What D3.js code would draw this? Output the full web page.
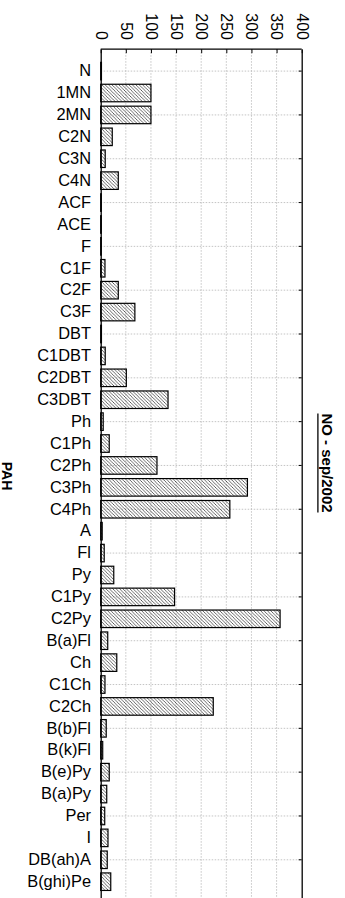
<!DOCTYPE html>
<html>
<head>
<meta charset="utf-8">
<script src="https://cdn.jsdelivr.net/npm/d3@7"></script>
<style>
  html, body { margin: 0; padding: 0; background: #fff; }
  svg { display: block; font-family: "Liberation Sans", Arial, sans-serif; }
</style>
</head>
<body>
<svg id="chart" width="345" height="898"></svg>
<script>
// PAH concentrations, station NO, September 2002
const categories = ["N","1MN","2MN","C2N","C3N","C4N","ACF","ACE","F","C1F","C2F","C3F",
  "DBT","C1DBT","C2DBT","C3DBT","Ph","C1Ph","C2Ph","C3Ph","C4Ph","A","Fl","Py","C1Py","C2Py",
  "B(a)Fl","Ch","C1Ch","C2Ch","B(b)Fl","B(k)Fl","B(e)Py","B(a)Py","Per","I","DB(ah)A","B(ghi)Pe"];
const values = [1.5,100,100,23,9,35,1,1,1,8.5,35,68,
  1.5,9,51,134,5,17,112,292,257,3,7,26,147,357,
  14,32,8.5,224,11,4,17,12,8,14.5,13,20];
const tickValues = [0,50,100,150,200,250,300,350,400];
const titleText = "NO - sep/2002";
const axisTitle = "PAH";

const svg = d3.select("#chart");

const plotLeft = 100.7, plotRight = 301.7, plotTop = 49.2, plotBottom = 903.6;

const x = d3.scaleLinear().domain([0, 400]).range([plotLeft, plotRight]);
const y = d3.scaleBand().domain(categories).range([plotTop, plotBottom])
  .paddingInner(0.2).paddingOuter(0.6);

// hatch fill for the bars
const hs = 3.4;
const defs = svg.append("defs");
defs.append("pattern")
  .attr("id", "hatch")
  .attr("patternUnits", "userSpaceOnUse")
  .attr("width", hs).attr("height", hs)
  .append("path")
  .attr("d", `M0,0L${hs},${hs}M-1,${hs - 1}L1,${hs + 1}M${hs - 1},-1L${hs + 1},1`)
  .attr("stroke", "#333").attr("stroke-width", 0.75);

// dotted grid
const evenCats = categories.filter((d, i) => i % 2 === 0);
svg.append("g").selectAll("line")
  .data(tickValues.slice(1, -1))
  .join("line")
  .attr("x1", d => x(d)).attr("x2", d => x(d))
  .attr("y1", plotTop).attr("y2", plotBottom)
  .attr("stroke", "#b5b5b5").attr("stroke-width", 0.8)
  .attr("stroke-dasharray", "1.5,1.5");
svg.append("g").selectAll("line")
  .data(evenCats)
  .join("line")
  .attr("x1", plotLeft).attr("x2", plotRight)
  .attr("y1", d => y(d) + y.bandwidth() / 2).attr("y2", d => y(d) + y.bandwidth() / 2)
  .attr("stroke", "#b5b5b5").attr("stroke-width", 0.8)
  .attr("stroke-dasharray", "1.5,1.5");

// bars
svg.append("g").selectAll("rect")
  .data(categories)
  .join("rect")
  .attr("x", x(0))
  .attr("y", d => y(d))
  .attr("width", (d, i) => x(values[i]) - x(0))
  .attr("height", y.bandwidth())
  .attr("fill", "url(#hatch)")
  .attr("stroke", "#000").attr("stroke-width", 1.2);

// value axis on top, labels turned a quarter
const topAxis = svg.append("g")
  .attr("transform", `translate(0,${plotTop})`)
  .call(d3.axisTop(x).tickValues(tickValues).tickSize(-4).tickSizeOuter(0));
topAxis.select(".domain").remove();
topAxis.selectAll("line").attr("stroke", "#000");
topAxis.selectAll("text")
  .attr("y", null)
  .attr("dy", "0.35em")
  .attr("text-anchor", "end")
  .attr("transform", "translate(0,-9.2) rotate(90)")
  .attr("font-size", 16)
  .attr("font-family", "'Liberation Sans', Arial, sans-serif")
  .attr("fill", "#000");

// category axis on the left
const leftAxis = svg.append("g")
  .attr("transform", `translate(${plotLeft},0)`)
  .call(d3.axisLeft(y).tickSize(0).tickSizeOuter(0).tickPadding(9.7));
leftAxis.select(".domain").attr("stroke", "#000").attr("stroke-width", 1.3);
leftAxis.selectAll("text")
  .attr("font-size", 16.4)
  .attr("font-family", "'Liberation Sans', Arial, sans-serif")
  .attr("fill", "#000");

// right frame with inward ticks
const rightAxis = svg.append("g")
  .attr("transform", `translate(${plotRight},0)`)
  .call(d3.axisLeft(y).tickValues(evenCats).tickSize(3).tickSizeOuter(0).tickFormat(""));
rightAxis.select(".domain").attr("stroke", "#000").attr("stroke-width", 1.3);
rightAxis.selectAll("line").attr("stroke", "#000");

// top frame line
svg.append("line")
  .attr("x1", plotLeft).attr("x2", plotRight).attr("y1", plotTop).attr("y2", plotTop)
  .attr("stroke", "#000").attr("stroke-width", 1.3);

// title, underlined
const tg = svg.append("g").attr("transform", "translate(321.5,463) rotate(90)");
const tt = tg.append("text")
  .attr("text-anchor", "middle")
  .attr("font-size", 15).attr("font-weight", "bold")
  .attr("fill", "#000")
  .text(titleText);
const tw = tt.node().getComputedTextLength();
tg.append("line")
  .attr("x1", -tw / 2).attr("x2", tw / 2)
  .attr("y1", 3.6).attr("y2", 3.6)
  .attr("stroke", "#000").attr("stroke-width", 1.3);

// category axis title
svg.append("text")
  .attr("transform", "translate(2,476) rotate(90)")
  .attr("text-anchor", "middle")
  .attr("font-size", 14).attr("font-weight", "bold")
  .attr("fill", "#000")
  .text(axisTitle);
</script>
</body>
</html>
